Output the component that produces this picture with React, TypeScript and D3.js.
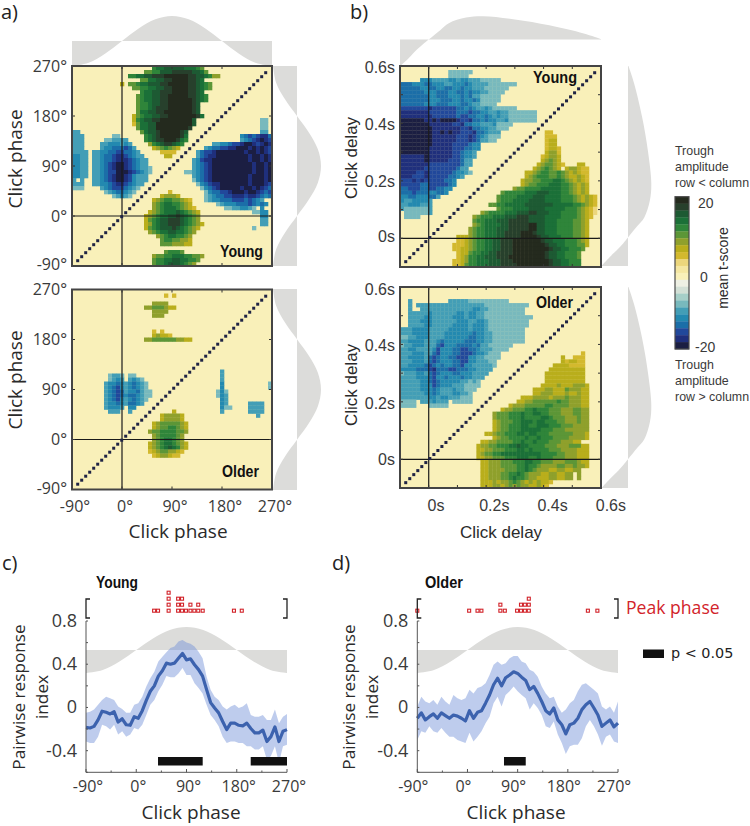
import React from "react";
import * as d3 from "d3";

// ---------- colour levels, top of colour bar to bottom ----------
const levelColors: Record<string,string> = {
  A:"#ecd67c",B:"#d3b92e",C:"#b9ae1c",D:"#8fa02c",E:"#5c9637",F:"#2f853a",G:"#1b7038",H:"#1d5a33",I:"#27402c",J:"#242a1e",
  P:"#f5e7a2",".":"#f9f0b9",
  a:"#eef0e4",b:"#d3e0d6",c:"#a6cfc8",d:"#78b9bd",e:"#439eb6",f:"#2389b0",g:"#1b6ea8",h:"#21489b",i:"#1f2f7c",j:"#1b1e42",
};
const background = "#f9f0b9";
const diagonalColor = "#1f2344";
const colorBarLevels = ["J","I","H","G","F","E","D","C","B","A","P",".","a","b","c","d","e","f","g","h","i","j"];

// ---------- t-score maps: 50 rows, run-length coded (count + level) ----------
const youngPhaseRows = [
"20.1F2G5H3G1F1E","18.2E2F3H5I2H1G1E","14.2F2G2H3I6J2I2H1G1F2D","17.2E2G2H2I4J2I1H1G","12.1C1.2E1F2G3H2I5J2I1H1G1F1E",
"15.2E2F2G2H2I4J2I1H1G1F1E","17.1F2G2H3I4J2I1H1G","16.1E1F2G2H2I5J2I1H1G1F","16.1E1F2G2H2I6J1I1H1G1F","16.1E2F1G2H2I6J1I1H",
"16.1E2F1G1H3I6J1I1H","16.1E2G2H2I7J1I1H","15.1C1E1F2G2H2I7J1I1G","15.1C1F1G2H2I8J1H16.2d","15.1B1E2G2H9J1H16.2d",
"16.1E2G2H8J1I17.2d","2e15.1E1G2H1I5J1I1H18.2e","3e7.2d6.1F1G1H1I5J1I1G13.1f1g1h1g1h2i1g","3e5.2d4e4.1F1G1H2I3J1I1G1F13.1e1f1g1h1i1j1i1h",
"3e4.2e3f1e1f1e4.1D1F1G1H2I1H1G1F7.2e2f1g2h1i2j1i1h1i1j1i","3e4.1e2f3g1h1g1e4.1C1D1E1F1E1D1C6.1e1f2g2h2i3j1i1j1i1j1i1h",
"4e1.2e2f2g2h2g1f1e5.4B5.1e1g2h1i7j1i2j1i1j1i1h","2f2e1.2e1f2g1h2i1h1g1f2e5.2C6.1e1g1h2i8j1i2j1i1j1i",
"2f2e1.2e1f2g1h3i1h1g1f2e11.1e1f1h2i9j1i2j1i1j1i","2f2e1.2e1f1g1h1i2j1i1h1g1f2e11.1e1f1g1h1i10j1i2j1i1j",
"2f2e1.2e1f1g1h1i2j1i1h1g1f2e1d10.1e1f1g1h1i10j1i2j1i1j","2f2e1.2e1f1g2h3j1i1h1g1f1e1d8.2d1e1f1g1h1i10j1i2j1i1j",
"2f2e1.2e1f1g1h1i2j1i1h1f3e11.1e1f1g1h1i9j1i3j1i1j","1e1.1e2.2e1f1g1h1i2j1i1h1f3e11.1d1f1g1h1i9j1i3j1i1j",
"3e2.2e2f1g1h2i1h1g1f2e13.1d1f1g1h2i7j1i3j1i1h","3d4.1e1f1g3h1g1f1e1d15.1d1f1g1h1i5j1i2j1i1j1i1h1g",
"8.1d1e1f2g1f1e1d8.1B8.1d1f2g2h1i3j1i2j1i1h1g1h","10.1d1e1f1e1d7.1C3D1C6.1d1e1f2g2h3i1h2i1h1g1f1g",
"20.1C1D1E2F2E1D1C1B3.1d1e2f3g3h1g1h1g1f1e","20.1D1E1F2G2F1E1D1C6.1d1e3f3g1h1g1f1g1f","20.1D1E1F3G1F1E1D1C1B7.2d2e2f1e1d1.1f",
"19.1C1D1E1F3G1H1G1F1E1D1C13.2d2f","18.1C1D1E1F2G2H1I1H1G1F1E1D15.2f","18.1C1E1F1G2H3I1H1G1F1E1D15.2e","18.1C1D1F1G2H3I1H1G1F1E1D1C14.2e",
"18.1C1E1F1G3H1I1H1G1F1E1D1C13.1d","19.1D1E1F2G2H2G1F1E1D","21.1D1E1F2G2F1E1D","22.1E2F2E2D1C","22.3E3D2C","","23.1E3F1E",
"20.1D2E2F3G2F2E1D","20.1E2F2G2H2G2F1E","20.1E2F1G3H1G1F1E1D",
];
const olderPhaseRows = [
"","23.1B1.1B","","20.4D","18.2D2E1E1D2C","20.4D","20.3D","","","","20.1B1.1B","20.1C1D2C1B","18.2D6E2D2C","","","","","","","","37.1e",
"9.1d2e1d1.2d21.1e","9.1d1e1f1e1.1e1f1e1d19.1e","8.1e2f1g1f1e1f1g1f1e1d18.1f11.1d","8.1e1f1g1h1f1e1f1g1f1e1d18.1f11.1d",
"8.1e1f1g1h1g1e2f1g1e1d1d16.1d1f1d","8.1e1f1g1h1g1f2g1f1e1d1d16.1d1f1e","8.1e1f1g1h1f1e1f1g1f1e1d18.1f1e",
"8.1e2f1g1f1e2g1f1e19.1f1e5.4e","8.1e3f1e1.2f21.1f2d4.4e","9.3e2.1e10.1C11.1e6.4e","22.1C4D1C18.1e","22.1C4D1C","20.1C1D5E1D1C","20.1C1D2E2F1E1D1C",
"19.1D2E4F2E1D","20.1D1E4F1E1D","20.1D1E1F2G1F1E1D","19.1C1D1E1F2G1F1E1D1C","19.1C1D1E1F1G1H1G1F1D1C","19.1B1C1D2E2D1C1B","20.1B1C2D1C2B",
"","","","","","","","",
];
const youngDelayRows = [
"","12.6d","12.5d","5.3f4e2f1e2f3e5d","3g3f2g3f2e3f1g1f1e3e7d","5g2f2g2f2g2f1g2f3e6d","6g3f3g2f2g1f1g2f2e4d","7g2f3g3f1g1f1g2e5d","7g3f3g2f1g2f1g1f5d",
"6g3f3g3f2g1f2e4d","7h1i6h2g1f1g1f2e1f1e6d","7i7h3g1h2g2f2e1f2e7d","8i6h1g2h2g2f1g1f1e1f2e7d","6j2i1j1i4j1i2h1i2g1f1g2f2e1f7d",
"7j1i5i2h1i2g2f3e1f4d","8j7i2h1i2g2f2e3d","8j2i1j1i1j2i3h1i2g1f3e11.2B","8j6i3h1i1h1g1f1e3d11.3B","8j6i3h1i1h1g2e2d12.1B2C","8j5i3h1h1g2f16.1B2C",
"7j6i3h1g1g2f16.1B2C1B","7j6i2h1g2f1e17.1C2D1B","6i1j6i2h1g2f1e16.1B1C2D1C","6i1j5i3h1g2e17.1C1D1E1D1C","7i6h2h1g2e16.1C1D2E1D1C1B3.2C",
"6i6h2h1g2e16.1C1D1E1F1E1D1C1.1C2D1C2B","4i2h1i6h1g2f1e1d13.2C1D1E2F2E1F1E1D1C1D1C1B1B","3i3h1i5h2g1f1e15.1C1D1E3F2E1F1E1D2C1D1C1B",
"3h1i1h1i5h2g1f16.1C2D2E3F2G1F1E1D1C1D1C1B","5h2g5h1g1f16.1C1D2E3F3G2F1E1D1C1D1C","2g3h2g2h2g2f15.1D2E4F5G2F1E1D1C1D1C","3g1h3g2f2g1f13.1E5F3G3H3G2F1E1D1C1D1C",
"2f2g3f2g1e14.1E4F4G3H4G3F1E1D1C1D1C1B","1f2e1f3f1e16.1E3F4G4H4G3F1E1D1C1D1C1B","2e3f3e14.2E2F5G7H5G2F1E1D1C1B","1e6d1e16.1E3F4G4H5G3F1E1D1C1B1A",
"1.6d1e12.1D1E4F3G3H2I3H3G4F1E1D1C1B1A","1.4d13.1D1E3F3G3H3I4H4G4F1E1D1C1B","18.1E2F3G3H5I4H3G4F2E1D1C","18.1D1E1F4G2H5I2J2H3G4F2E1D1C",
"17.1D1E2F3G3H5I2J2H3G4F2E1D1C","17.1D1E2F3G2H4I3J1I2H3G4F2E1D1C","14.3C1D1E2F3G2H4I4J1I2H3G3F2E1D1C","14.2B1C1D1E2F2G2H3I7J1I2H3G3F1E1D1C",
"13.3B1C1D1E2F2G2H3I8J1I2H2G3F2E1C","13.2B2C1D1E2F2G2H3I9J1I2H2G3F1E","14.1B2C1E2F2G2H4I8J1I2H2G3F1E","14.1B1C1D2F2G3H3I9J1I2H2G3F1E",
"13.2B1C1D2F3G3H3I9J1I2H2G3F","13.2B1C1E2F3G3H4I8J1I2H2G3F",
];
const olderDelayRows = [
"","","","2.1e9.5e10d","2.1e1.17e11d","2.1e2.13e2f2e9d","2.5e1f6e2f1e2f2e10d","2.4e2f5e3f1e2f2e12d","2.3e3f6e3f2e2f1e10d","2.4e2f5e4f1e3f1e10d",
"3e4f5e5f1e3f1e9d","3e4f4e7f1g2f2e8d","2d2e3f4e6f2g2f2e8d","2e4f3e1f1g5f3g2f2e8d","1d2e3f3e1g1h3f4g1f1g2e6d","2e2f4e1f1h3f2g2h2g1f3e4d",
"3e3f2e1g1h3f2g3h1g2f1e3d20.1B","2e4f1e1g1h1g2f2g3h2f2e1d3d15.1C2.3B","3e3f1e1g1h1g3f2g2h2f3e2d16.1C1B2C2B","2e4f1g1h1g1f1g2f2g1h2f5e1d14.4C4B",
"4f3g1h1i3g2h3g2f4e14.9C","1d3e2f1e1g1h1g3f2g3f4e14.10C","4e3f1g1h2f1g3f1g2f3e15.10C","5e2f1g1h1g5f2e1d1e1d16.10C","5e2f1f1h1g3f3e4d15.4C1D3C3D1C",
"5e3f1g1f3e1f2e3d14.3C2D3C1E3D2C","6e2f1g1f3e2f2e1d15.2C3D3C1D2C1D2C","7e2f1e2f3e3d12.3C4D1C3D1E3D2C","4d1.3e1f3e1.5d11.2C2D6E1F2E3D2C","4d3.5d15.1C3D5E2F4E3D2C",
"25.1C2D3E2F1G3F3E3D2E2D","23.1D3E3F1G2F2G2F3E3D2E2D","23.1D3E3F1G4F2G1F3E3D1E2D","23.1C1D3E2F3G1F2G3F2E3D1E2D","23.1C1D2E3F2G2F3G3F3E2D2D",
"23.1C1D2E3F5G3F3E6D","21.2C1D2E3F2G1F2G3F6E3D1C","23.1C1D2E4F1G2F1G3F4E2D2D1C","20.2C2D4E2F1G2F1G3F3E3D2C","19.1C2D2E3F2G1H2G4F3E3D3E2C","19.2C2D3E3F2G1F1G4F3E4D3C",
"19.1C1D2E2F10G4F2E3D3C","19.2C2D3E3F3G2F1G3F3E3D3C","20.2C3D3E3F2G2F3E3D3E1D2C","20.2C3D4E2F1G2F1E4D2E2D1E2D1C","20.2C4D3E2F1G1F1E3D2C2D2C2D",
"20.2C3D2E2F1G1F1E3D2C2D2C2D1.1D","20.2C3D2E1F1G2F1E2D3C2D2C2D1.1D","20.3C1D1C2D1E1F1E1D1C1D1C1D2C1B","20.3C2D1C1D1E1D1E2D2C1D1C1B",
];

// ---------- margins: click efficacy ----------
const phaseGrid = [-90,-60,-30,0,30,60,90,120,150,180,210,240,270];
const phaseEnvelope = [-1,-.87,-.5,0,.5,.87,1,.87,.5,0,-.5,-.87,-1];
const delayGrid = [-.1,-.07,-.04,-.02,0,.04,.07,.13,.19,.3,.42,.54,.6];
const delayEnvelope = [-1.14,-.8,-.42,-.2,0,.4,.7,.94,1,.86,.61,.26,.02];

// ---------- pairwise response index ----------
const phaseTicks = [-90,0,90,180,270];
const responseTicks = [.8,.4,0,-.4];
const youngMean = [-.185,-.19,-.175,-.115,-.035,-.045,-.06,-.04,-.135,-.105,-.16,-.165,-.085,-.1,-.03,.065,.15,.2,.29,.34,.41,.4,.41,.455,.5,.44,.45,.395,.35,.29,.165,.045,-.005,-.05,-.13,-.205,-.145,-.145,-.165,-.17,-.145,-.195,-.235,-.235,-.21,-.315,-.27,-.18,-.315,-.22,-.205];
const youngUpper = [-.05,-.04,-.02,.025,.07,.1,.085,.07,.01,-.015,-.05,-.05,.025,.04,.1,.195,.27,.33,.425,.47,.51,.55,.565,.61,.625,.6,.59,.565,.515,.455,.285,.165,.1,.07,.01,-.02,.01,.025,-.005,.01,.04,-.07,-.085,-.085,-.07,-.115,-.115,-.02,-.145,-.085,-.06];
const youngLower = [-.315,-.33,-.33,-.27,-.16,-.175,-.205,-.16,-.25,-.22,-.27,-.25,-.19,-.205,-.16,-.07,.025,.07,.15,.21,.29,.28,.28,.315,.365,.3,.3,.225,.18,.13,.025,-.07,-.115,-.175,-.27,-.33,-.315,-.315,-.33,-.33,-.36,-.36,-.39,-.39,-.36,-.485,-.45,-.36,-.515,-.36,-.345];
const olderMean = [-.1,-.05,-.115,-.085,-.06,-.1,-.05,-.075,-.1,-.07,-.08,-.1,-.125,-.03,-.1,-.045,-.03,.04,.115,.21,.27,.2,.275,.3,.33,.315,.28,.25,.165,.195,.13,.055,-.03,-.06,-.005,-.115,-.16,-.245,-.16,-.145,-.1,-.02,.025,.055,-.005,-.07,-.175,-.145,-.115,-.18,-.145];
const olderUpper = [.01,.1,.055,.04,.07,.025,.1,.055,.025,.115,.085,.07,.085,.165,.13,.18,.195,.225,.3,.395,.425,.395,.41,.455,.475,.475,.425,.41,.35,.33,.285,.195,.13,.085,.1,.01,-.05,-.02,.04,.07,.15,.21,.225,.195,.165,.13,.01,-.02,.01,-.05,.055];
const olderLower = [-.3,-.22,-.235,-.175,-.22,-.235,-.19,-.235,-.27,-.27,-.3,-.315,-.33,-.235,-.315,-.27,-.22,-.145,-.085,.04,.1,.01,.115,.15,.195,.15,.115,.085,-.02,.04,-.005,-.07,-.175,-.19,-.13,-.25,-.33,-.43,-.36,-.345,-.345,-.285,-.175,-.115,-.175,-.25,-.355,-.27,-.25,-.315,-.33];
const youngSignificant = [[39,119],[205,270]];
const olderSignificant = [[65.5,104.5]];
// peak phase of each listener: [phase, number of listeners]
const youngPeaks = [[32,1],[39,1],[58,4],[75,3],[82,3],[89,1],[97,2],[104,1],[111,2],[119,1],[175,1],[189,1]];
const olderPeaks = [[-90,1],[3,1],[18,1],[25,1],[59,2],[67,1],[89,1],[96,2],[103,2],[110,3],[216,1],[233,1]];

const ink = "#3a3a3a";
const sans = "'Open Sans', sans-serif";
const arial = "'Liberation Sans', Arial, sans-serif";

function decodeRow(row: string): string {
  let out = "";
  for (const m of row.matchAll(/(\d+)([.A-Ja-j])/g)) out += m[2].repeat(+m[1]);
  return out.padEnd(50, ".").slice(0, 50);
}

function Heatmap({ rows, left, top, size, domain, ticks, zero }: any) {
  const idx = d3.range(50);
  const bandX = d3.scaleBand<number>().domain(idx).range([left, left + size]);
  const bandY = d3.scaleBand<number>().domain(idx).range([top, top + size]);
  const x = d3.scaleLinear().domain(domain).range([left, left + size]);
  const y = d3.scaleLinear().domain(domain).range([top + size, top]);
  const bw = bandX.bandwidth();
  const cells: React.ReactNode[] = [];
  rows.map(decodeRow).forEach((row: string, r: number) => {
    for (let c = 0; c < 50; c++) {
      if (row[c] === ".") continue;
      cells.push(<rect key={r + "-" + c} x={bandX(c)} y={bandY(r)} width={bw + .3} height={bw + .3} fill={levelColors[row[c]]} />);
    }
  });
  const diagonal = idx.slice(1, 49).map(c => (
    <rect key={c} x={(bandX(c) as number) + .6 - .4} y={(bandY(49 - c) as number) + .6 + .6} width={bw - 1} height={bw - 1} fill={diagonalColor} />
  ));
  return (
    <g>
      <rect x={left} y={top} width={size} height={size} fill={background} />
      {cells}
      <line x1={x(zero)} x2={x(zero)} y1={top} y2={top + size} stroke="#1a1a1a" strokeWidth={1.2} />
      <line x1={left} x2={left + size} y1={y(zero)} y2={y(zero)} stroke="#1a1a1a" strokeWidth={1.2} />
      {diagonal}
      {ticks.map((t: number) => (
        <g key={t} stroke="#333" strokeWidth={1}>
          <line x1={x(t)} x2={x(t)} y1={top} y2={top + 3} />
          <line x1={x(t)} x2={x(t)} y1={top + size} y2={top + size - 3} />
          <line x1={left} x2={left + 3} y1={y(t)} y2={y(t)} />
          <line x1={left + size} x2={left + size - 3} y1={y(t)} y2={y(t)} />
        </g>
      ))}
      <rect x={left} y={top} width={size} height={size} fill="none" stroke="#444" strokeWidth={2} />
    </g>
  );
}

function TopMargin({ grid, env, left, right, domain, base, amp }: any) {
  const x = d3.scaleLinear().domain(domain).range([left, right]);
  const y = d3.scaleLinear().domain([0, 1]).range([base, base - amp]);
  const area = d3.area<number>().x((_, i) => x(grid[i])).y0(base).y1(v => y(v)).curve(d3.curveCatmullRom);
  return <path d={area(env) as string} fill="#dcdcda" />;
}
function RightMargin({ grid, env, top, bottom, domain, base, amp }: any) {
  const y = d3.scaleLinear().domain(domain).range([bottom, top]);
  const x = d3.scaleLinear().domain([0, 1]).range([base, base + amp]);
  const area = d3.area<number>().y((_, i) => y(grid[i])).x0(base).x1(v => x(v)).curve(d3.curveCatmullRom);
  return <path d={area(env) as string} fill="#dcdcda" />;
}

const Tick = ({ x, y, children, anchor = "end", size = 16, font = sans, fill = ink }: any) => (
  <text x={x} y={y} textAnchor={anchor} fontSize={size} fontFamily={font} fill={fill}>{children}</text>
);
const Rotated = ({ x, y, children, size = 19, font = sans, fill = "#2a2a2a" }: any) => (
  <text transform={`translate(${x},${y}) rotate(-90)`} textAnchor="middle" fontSize={size} fontFamily={font} fill={fill}>{children}</text>
);
const Badge = ({ x, y, w, children, size = 16 }: any) => (
  <text x={x} y={y} fontSize={size} fontFamily={arial} fontWeight={700} fill="#111" textLength={w} lengthAdjust="spacingAndGlyphs">{children}</text>
);
const PanelLetter = ({ x, y, children }: any) => (
  <text x={x} y={y} fontSize={20} fontFamily={sans} fill="#222">{children}</text>
);

function ResponsePanel({ left, right, mean, upper, lower, sig, peaks, tickShift }: any) {
  const x = d3.scaleLinear().domain([-90, 270]).range([left, right]);
  const y = d3.scaleLinear().domain([-.6, .8]).range([772.3, 621]);
  const step = (i: number) => -90 + i * 7.2;
  const band = d3.area<number>().x((_, i) => x(step(i))).y0((_, i) => y(lower[i])).y1(v => y(v));
  const line = d3.line<number>().x((_, i) => x(step(i))).y(v => y(v));
  const waveBase = 650, waveAmp = 23;
  const waveY = d3.scaleLinear().domain([0, 1]).range([waveBase, waveBase - waveAmp]);
  const wave = d3.area<number>().x((_, i) => x(phaseGrid[i])).y0(waveBase).y1(v => waveY(v)).curve(d3.curveCatmullRom);
  const peakBase = 610.7, stack = 6;
  return (
    <g>
      <path d={wave(phaseEnvelope) as string} fill="#dcdcda" />
      <path d={band(upper) as string} fill="#6f8fd8" fillOpacity={.45} />
      <path d={line(mean) as string} fill="none" stroke="#3c62ae" strokeWidth={3.2} strokeLinejoin="round" />
      {sig.map((s: number[], i: number) => (
        <rect key={i} x={x(s[0])} width={x(s[1]) - x(s[0])} y={757} height={8.5} fill="#111" />
      ))}
      <path d={`M${left},621V772.3H${right}`} fill="none" stroke="#555" strokeWidth={1} />
      {d3.range(-.6, .81, .2).map(t => <line key={t} x1={left} x2={left + 2} y1={y(t)} y2={y(t)} stroke="#555" />)}
      {d3.range(-90, 271, 45).map(t => <line key={t} x1={x(t)} x2={x(t)} y1={772.3} y2={t % 90 === 0 ? 769 : 770.5} stroke="#555" />)}
      {peaks.flatMap((p: number[]) => d3.range(p[1]).map(k => (
        <rect key={p[0] + "-" + k} x={x(p[0]) - 1.5} y={peakBase - k * stack - 1.5} width={3} height={3} fill="#fff" stroke="#d2232a" strokeWidth={1.1} />
      )))}
      <path d={`M${left + 4},599H${left}V618H${left + 4}`} fill="none" stroke="#222" strokeWidth={1.3} />
      <path d={`M${right - 4},599H${right}V618H${right - 4}`} fill="none" stroke="#222" strokeWidth={1.3} />
      {responseTicks.map(t => <Tick key={t} x={left - 9} y={y(t) + 6} size={18}>{t === 0 ? "0" : t}</Tick>)}
      {phaseTicks.map(t => <Tick key={t} x={x(t) + tickShift} y={792} anchor="middle">{t}°</Tick>)}
    </g>
  );
}

export default function App() {
  const phaseDomain = [-90, 270];
  const delayDomain = [-.1, .6];
  const heatPhaseTicks = [-90, 0, 90, 180, 270];
  const heatDelayTicks = [-.1, 0, .1, .2, .3, .4, .5, .6];
  const barScale = d3.scaleBand<string>().domain(colorBarLevels).range([196.7, 349]);
  return (
    <svg width={750} height={826} viewBox="0 0 750 826" style={{ position: "absolute", left: 0, top: 0, display: "block" }}>
      <rect width={750} height={826} fill="#fff" />
      {/* a) */}
      <PanelLetter x={1} y={19}>a)</PanelLetter>
      <TopMargin grid={phaseGrid} env={phaseEnvelope} left={72} right={272} domain={phaseDomain} base={41} amp={25} />
      <RightMargin grid={phaseGrid} env={phaseEnvelope} top={66} bottom={266} domain={phaseDomain} base={297} amp={24} />
      <RightMargin grid={phaseGrid} env={phaseEnvelope} top={289} bottom={490} domain={phaseDomain} base={297} amp={24} />
      <Heatmap rows={youngPhaseRows} left={72} top={66} size={200} domain={phaseDomain} ticks={heatPhaseTicks} zero={0} />
      <Heatmap rows={olderPhaseRows} left={72} top={289.5} size={200} domain={phaseDomain} ticks={heatPhaseTicks} zero={0} />
      {[66, 289.5].map(top => heatPhaseTicks.map((t, i) => (
        <Tick key={top + "-" + t} x={67} y={top + 200 - i * 50 + (i === 0 ? 4 : 5.5)}>{t}°</Tick>
      )))}
      {heatPhaseTicks.map((t, i) => <Tick key={t} x={75 + i * 50} y={512} anchor="middle">{t}°</Tick>)}
      <Rotated x={22} y={159}>Click phase</Rotated>
      <Rotated x={22} y={380}>Click phase</Rotated>
      <text x={178} y={538} textAnchor="middle" fontSize={19} fontFamily={sans} fill="#2a2a2a">Click phase</text>
      <Badge x={220} y={257} w={43}>Young</Badge>
      <Badge x={222} y={477} w={37}>Older</Badge>

      {/* b) */}
      <PanelLetter x={350} y={19}>b)</PanelLetter>
      <TopMargin grid={delayGrid} env={delayEnvelope} left={400} right={601} domain={delayDomain} base={39.5} amp={23.3} />
      <RightMargin grid={delayGrid} env={delayEnvelope} top={66} bottom={266} domain={delayDomain} base={628} amp={23.3} />
      <RightMargin grid={delayGrid} env={delayEnvelope} top={287} bottom={488} domain={delayDomain} base={628} amp={23.3} />
      <Heatmap rows={youngDelayRows} left={400} top={66} size={201} domain={delayDomain} ticks={heatDelayTicks} zero={0} />
      <Heatmap rows={olderDelayRows} left={400} top={287} size={201} domain={delayDomain} ticks={heatDelayTicks} zero={0} />
      {[[73, 129.5, 187, 242], [295, 351, 408.5, 465]].map((ys, k) =>
        ["0.6s", "0.4s", "0.2s", "0s"].map((s, i) => <Tick key={k + s} x={395} y={ys[i]} font={arial}>{s}</Tick>))}
      {["0s", "0.2s", "0.4s", "0.6s"].map((s, i) => <Tick key={s} x={436 + i * 58.3} y={511} anchor="middle" font={arial}>{s}</Tick>)}
      <Rotated x={357} y={158} size={17} font={arial}>Click delay</Rotated>
      <Rotated x={357} y={385} size={17} font={arial}>Click delay</Rotated>
      <text x={501} y={538} textAnchor="middle" fontSize={17} fontFamily={arial} fill="#2a2a2a">Click delay</text>
      <Badge x={533} y={83} w={44}>Young</Badge>
      <Badge x={536} y={308} w={37}>Older</Badge>

      {/* colour bar */}
      {colorBarLevels.map(l => <rect key={l} x={675} width={14} y={barScale(l)} height={barScale.bandwidth() + .3} fill={levelColors[l]} />)}
      <rect x={675} y={196.7} width={14} height={152.3} fill="none" stroke="#4a4a4a" strokeWidth={1.2} />
      {["Trough", "amplitude", "row < column"].map((s, i) => <Tick key={s} x={675} y={155 + i * 16} anchor="start" size={12.4} font={arial}>{s}</Tick>)}
      {["Trough", "amplitude", "row > column"].map((s, i) => <Tick key={s} x={675} y={369 + i * 16} anchor="start" size={12.4} font={arial}>{s}</Tick>)}
      <Tick x={698} y={208} anchor="start" size={14} font={arial}>20</Tick>
      <Tick x={700} y={282} anchor="start" size={14} font={arial}>0</Tick>
      <Tick x={695} y={352} anchor="start" size={14} font={arial}>-20</Tick>
      <Rotated x={728} y={268} size={14} font={arial}>mean t-score</Rotated>

      {/* c) */}
      <PanelLetter x={2} y={570}>c)</PanelLetter>
      <Badge x={96} y={588} w={42}>Young</Badge>
      <ResponsePanel left={86} right={287} mean={youngMean} upper={youngUpper} lower={youngLower} sig={youngSignificant} peaks={youngPeaks} tickShift={2} />
      <Rotated x={25} y={697} size={17.2}>Pairwise response</Rotated>
      <Rotated x={48} y={697} size={17.2}>index</Rotated>
      <text x={191} y={819} textAnchor="middle" fontSize={19} fontFamily={sans} fill="#2a2a2a">Click phase</text>

      {/* d) */}
      <PanelLetter x={332} y={570}>d)</PanelLetter>
      <Badge x={425} y={588} w={38}>Older</Badge>
      <ResponsePanel left={417.3} right={618} mean={olderMean} upper={olderUpper} lower={olderLower} sig={olderSignificant} peaks={olderPeaks} tickShift={-4} />
      <Rotated x={355} y={697} size={17.2}>Pairwise response</Rotated>
      <Rotated x={378} y={697} size={17.2}>index</Rotated>
      <text x={516} y={819} textAnchor="middle" fontSize={19} fontFamily={sans} fill="#2a2a2a">Click phase</text>
      <text x={626} y={614} fontSize={17.6} fontFamily={sans} fill="#d2232a">Peak phase</text>
      <rect x={643} y={649.5} width={21} height={8.5} fill="#111" />
      <text x={671} y={658} fontSize={14.4} fontFamily="'DejaVu Sans', sans-serif" fill="#222">p &lt; 0.05</text>
    </svg>
  );
}
